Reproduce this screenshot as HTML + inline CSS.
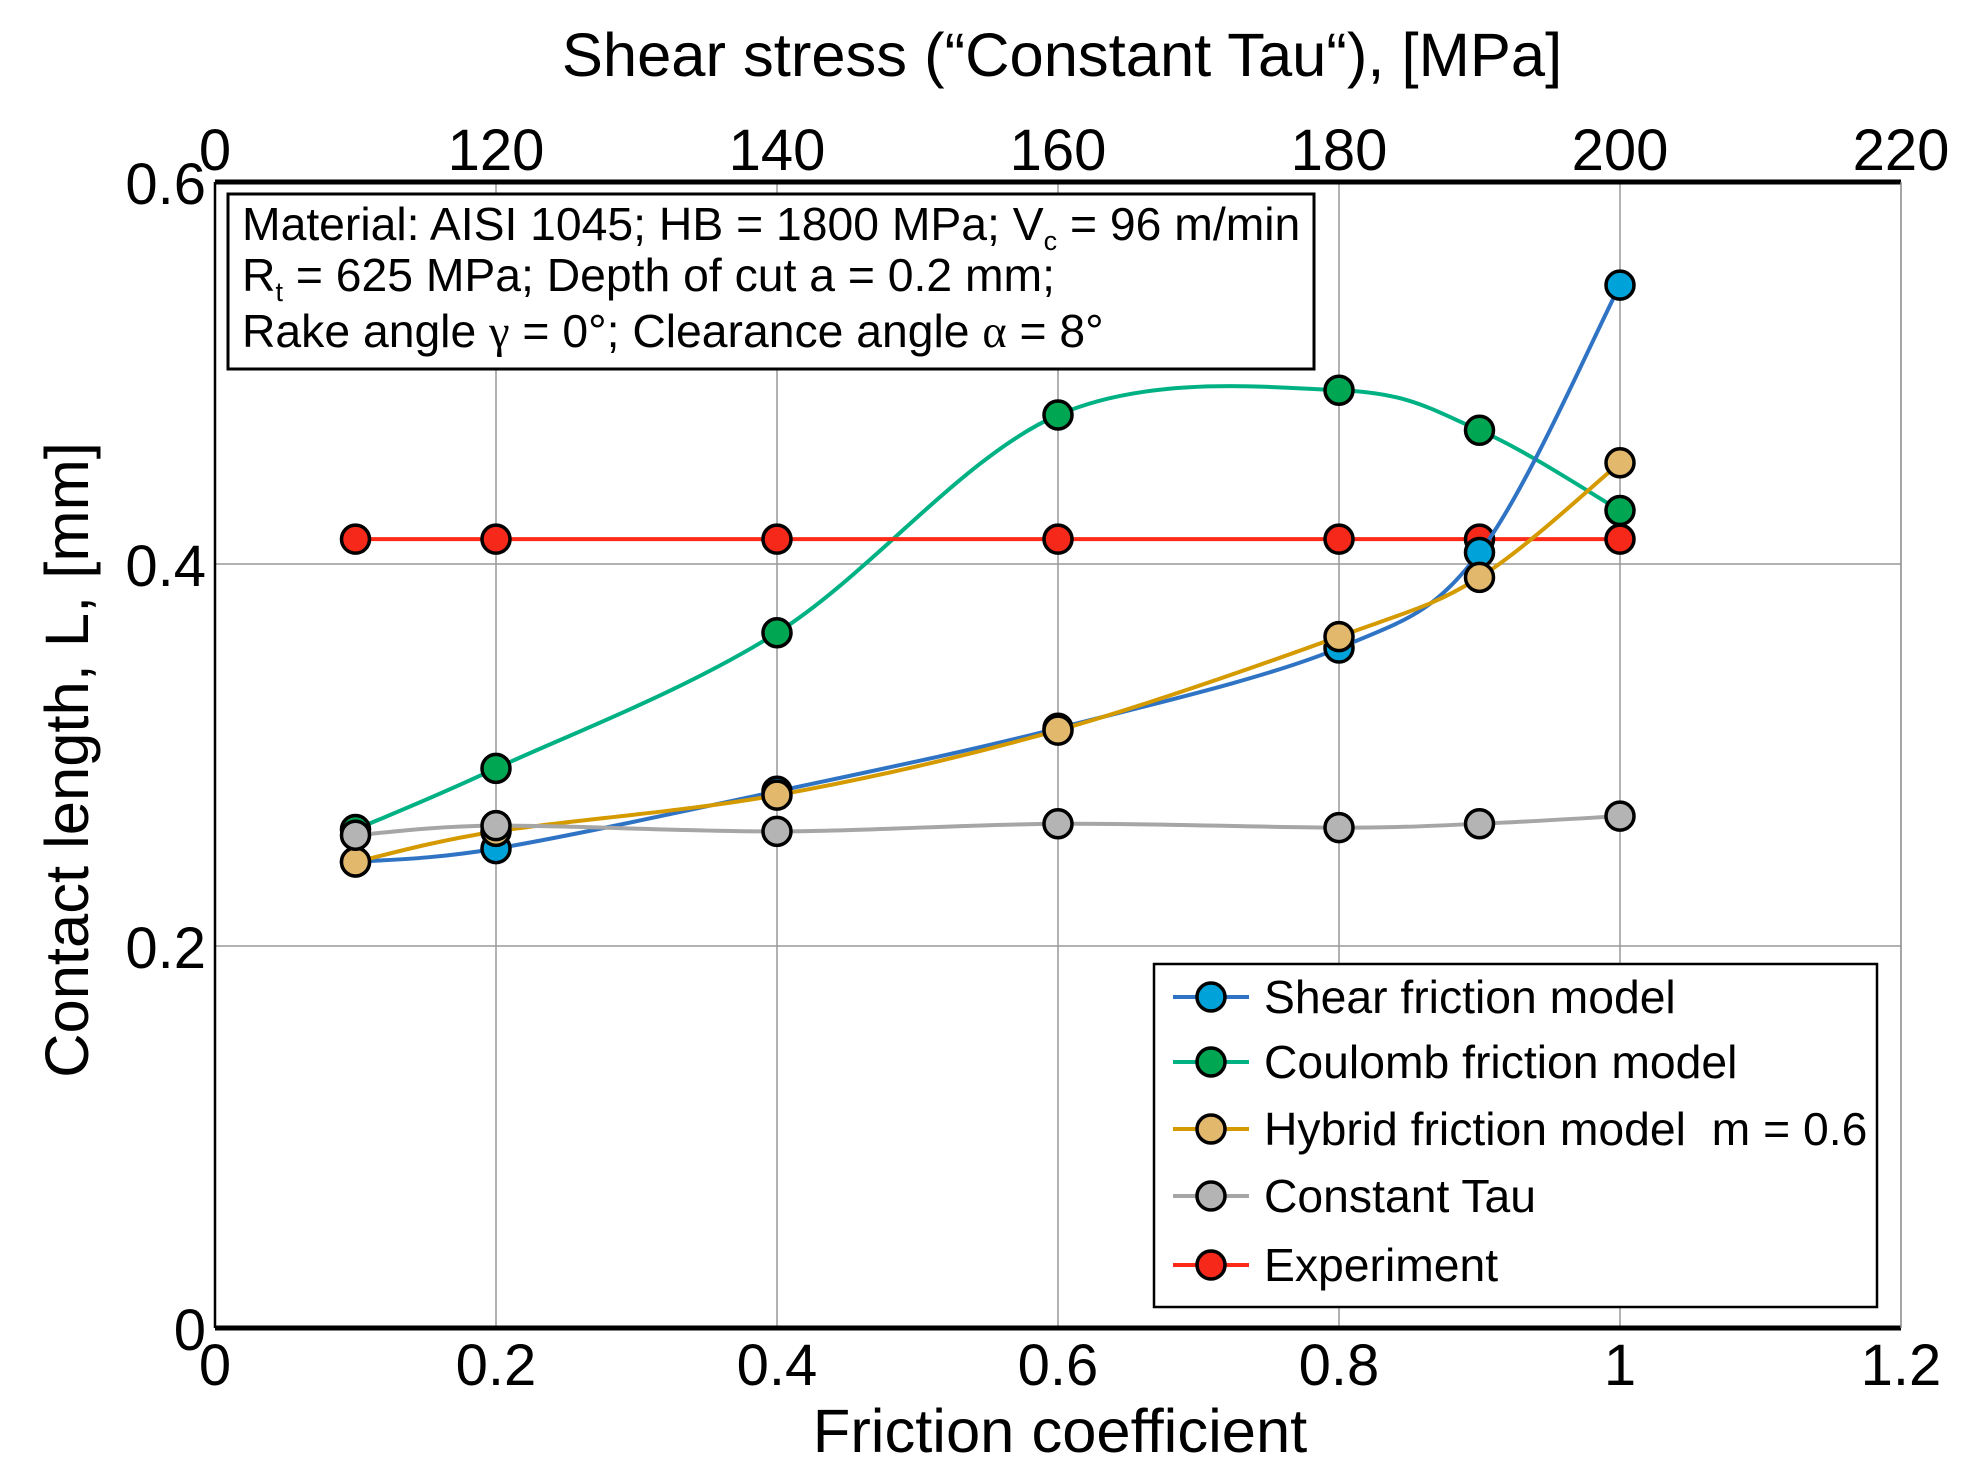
<!DOCTYPE html>
<html><head><meta charset="utf-8"><style>
html,body{margin:0;padding:0;background:#fff}
svg{display:block;font-family:"Liberation Sans",sans-serif}
</style></head><body>
<svg id="chart" width="1976" height="1481" viewBox="0 0 1976 1481">
<rect width="1976" height="1481" fill="#fff"/>
<g id="grid"></g>
<g id="axes"></g>
<g id="series"></g>
<g>
<rect x="228" y="194" width="1086" height="175" fill="#fff" stroke="#000" stroke-width="3"/>
<text x="242" y="240" font-size="46.3" fill="#000">Material: AISI 1045; HB = 1800 MPa; V<tspan font-size="27" dy="10">c</tspan><tspan dy="-10"> = 96 m/min</tspan></text>
<text x="242" y="291" font-size="46.3" fill="#000">R<tspan font-size="27" dy="10">t</tspan><tspan dy="-10"> = 625 MPa; Depth of cut a = 0.2 mm;</tspan></text>
<text x="242" y="347" font-size="46.3" fill="#000">Rake angle <tspan font-family="Liberation Serif,serif">γ</tspan> = 0°; Clearance angle <tspan font-family="Liberation Serif,serif">α</tspan> = 8°</text>
</g>
<g id="legend">
<rect x="1162" y="969" width="726" height="339" fill="#fff" stroke="#000" stroke-width="2.5"/>
</g>
<text x="1062" y="76" font-size="61.5" text-anchor="middle">Shear stress (“Constant Tau“), [MPa]</text>
<text x="1060" y="1452" font-size="61.5" text-anchor="middle">Friction coefficient</text>
<text transform="translate(88,760) rotate(-90)" font-size="61.5" text-anchor="middle">Contact length, L, [mm]</text>
</svg>
<script>
const frictionX = [0.1, 0.2, 0.4, 0.6, 0.8, 0.9, 1.0];
const shearVals = [0.244, 0.251, 0.281, 0.314, 0.356, 0.406, 0.546];
const coulombVals = [0.261, 0.293, 0.364, 0.478, 0.491, 0.470, 0.428];
const hybridVals = [0.244, 0.260, 0.279, 0.313, 0.362, 0.393, 0.453];
const tauVals = [0.258, 0.263, 0.260, 0.264, 0.262, 0.264, 0.268];
const expVals = [0.413, 0.413, 0.413, 0.413, 0.413, 0.413, 0.413];
const xTicks = [0, 0.2, 0.4, 0.6, 0.8, 1.0, 1.2];
const xTickLabels = ["0", "0.2", "0.4", "0.6", "0.8", "1", "1.2"];
const topTickLabels = ["0", "120", "140", "160", "180", "200", "220"];
const yTicks = [0, 0.2, 0.4, 0.6];
const yTickLabels = ["0", "0.2", "0.4", "0.6"];
const legendLabels = ["Shear friction model", "Coulomb friction model", "Hybrid friction model\u00a0\u00a0m = 0.6", "Constant Tau", "Experiment"];

const L = 215, R = 1901, T = 182, B = 1328;
const sx = v => L + (v - 0) / 1.2 * (R - L);
const sy = v => B - v / 0.6 * (B - T);
const NS = "http://www.w3.org/2000/svg";
function mk(tag, attrs, parent) {
  const e = document.createElementNS(NS, tag);
  for (const k in attrs) e.setAttribute(k, attrs[k]);
  parent.appendChild(e);
  return e;
}
const grid = document.getElementById('grid');
const axes = document.getElementById('axes');
const series = document.getElementById('series');
const legend = document.getElementById('legend');
const legRect = legend.querySelector('rect');
legRect.setAttribute('x', 1154);
legRect.setAttribute('y', 964);
legRect.setAttribute('width', 723);
legRect.setAttribute('height', 343);

xTicks.forEach((t, i) => {
  if (i > 0 && i < xTicks.length - 1) {
    const g = mk('line', {x1: sx(t), x2: sx(t), y1: T, y2: B, stroke: '#999', 'stroke-width': 1.5}, grid);
    
    
  }
  const tl = mk('text', {x: sx(t), y: 1385, 'font-size': 58, 'text-anchor': 'middle'}, axes);
  tl.textContent = xTickLabels[i];
  
  
  const tt = mk('text', {x: sx(t), y: 170, 'font-size': 58, 'text-anchor': 'middle'}, axes);
  tt.textContent = topTickLabels[i];
  
  
});
yTicks.forEach((t, i) => {
  if (i > 0 && i < yTicks.length - 1) {
    const g = mk('line', {x1: L, x2: R, y1: sy(t), y2: sy(t), stroke: '#999', 'stroke-width': 1.5}, grid);
    
    
  }
  const tl = mk('text', {x: 206, y: sy(t) + 22, 'font-size': 58, 'text-anchor': 'end'}, axes);
  tl.textContent = yTickLabels[i];
  
  
});
const a1 = mk('line', {x1: L, x2: R, y1: B, y2: B, stroke: '#000', 'stroke-width': 5}, axes);


const a2 = mk('line', {x1: L, x2: R, y1: T, y2: T, stroke: '#000', 'stroke-width': 5}, axes);


const a3 = mk('line', {x1: L, x2: L, y1: T, y2: B, stroke: '#000', 'stroke-width': 2.5}, axes);


const a4 = mk('line', {x1: R, x2: R, y1: T, y2: B, stroke: '#888', 'stroke-width': 1.5}, axes);



function smoothPath(xs, ys) {
  const p = xs.map((x, i) => [sx(x), sy(ys[i])]);
  let d = `M${p[0][0]},${p[0][1]}`;
  for (let i = 0; i < p.length - 1; i++) {
    const p0 = p[Math.max(0, i - 1)], p1 = p[i], p2 = p[i + 1], p3 = p[Math.min(p.length - 1, i + 2)];
    const c1 = [p1[0] + (p2[0] - p0[0]) / 6, p1[1] + (p2[1] - p0[1]) / 6];
    const c2 = [p2[0] - (p3[0] - p1[0]) / 6, p2[1] - (p3[1] - p1[1]) / 6];
    d += ` C${c1[0]},${c1[1]} ${c2[0]},${c2[1]} ${p2[0]},${p2[1]}`;
  }
  return d;
}
const defs = [
  {key: 'coulomb', vals: coulombVals, line: '#00b184', fill: '#00a651'},
  {key: 'experiment', vals: expVals, line: '#ff2a18', fill: '#f5281a'},
  {key: 'shear', vals: shearVals, line: '#2f73c4', fill: '#00a3d9'},
  {key: 'hybrid', vals: hybridVals, line: '#d49a00', fill: '#e2b86c'},
  {key: 'constant-tau', vals: tauVals, line: '#a6a6a6', fill: '#b4b4b4'}
];
defs.forEach(s => {
  const g = mk('g', {}, series);
  
  
  const path = mk('path', {d: smoothPath(frictionX, s.vals), fill: 'none', stroke: s.line, 'stroke-width': 4}, g);
  
  
  frictionX.forEach((x, i) => {
    const c = mk('circle', {cx: sx(x), cy: sy(s.vals[i]), r: 14, fill: s.fill, stroke: '#000', 'stroke-width': 3.5}, g);
    
    
  });
});
const legY = [997, 1062, 1129, 1196, 1265];
const legOrder = [2, 0, 3, 4, 1];
legendLabels.forEach((lab, i) => {
  const s = defs[legOrder[i]];
  const y = legY[i];
  const g = mk('g', {}, legend);
  
  
  mk('line', {x1: 1173, x2: 1249, y1: y, y2: y, stroke: s.line, 'stroke-width': 4}, g);
  mk('circle', {cx: 1211, cy: y, r: 14, fill: s.fill, stroke: '#000', 'stroke-width': 3.5}, g);
  const t = mk('text', {x: 1264, y: y + 16, 'font-size': 46.3}, g);
  t.textContent = lab;
});
</script>
</body></html>
